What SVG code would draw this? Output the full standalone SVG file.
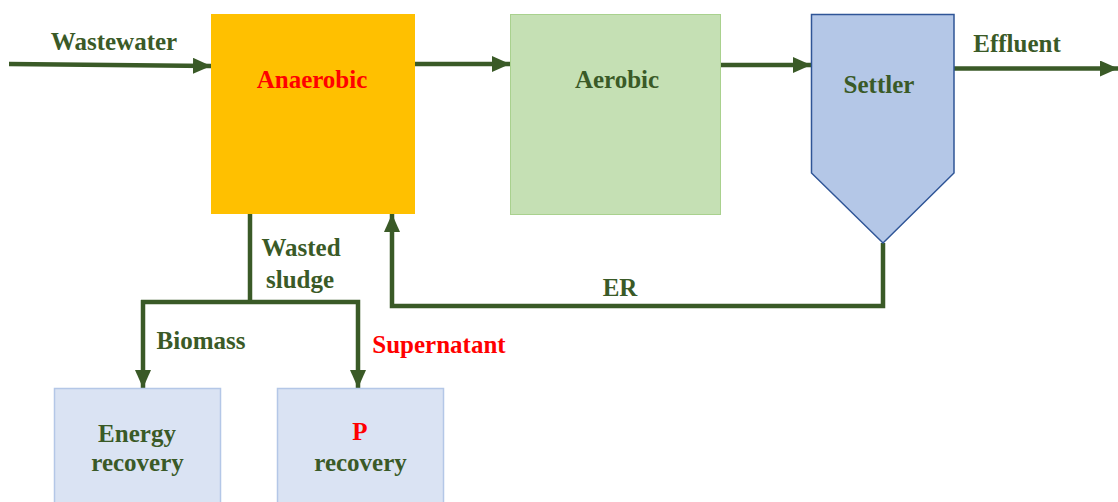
<svg xmlns="http://www.w3.org/2000/svg" width="1118" height="502" viewBox="0 0 1118 502">
  <defs>
    <style>
      .lbl { font-family: "Liberation Serif", "Times New Roman", serif; font-weight: bold; font-size: 25px; fill: #3A5A27; }
      .red { fill: #FF0000; }
      .flow { fill: none; stroke: #3A5A27; stroke-width: 4.5; stroke-linejoin: miter; }
    </style>
    <marker id="arrow" markerUnits="userSpaceOnUse" markerWidth="18" markerHeight="16" viewBox="0 0 18 16" refX="18" refY="8" orient="auto">
      <path d="M0,0 L18,8 L0,16 Z" fill="#3A5A27"/>
    </marker>
  </defs>

  <rect width="1118" height="502" fill="#FFFFFF"/>

  <!-- flow lines -->
  <g id="connectors">
    <path class="flow" d="M9,64 L211,66" marker-end="url(#arrow)"/>
    <path class="flow" d="M415,64 L510,64" marker-end="url(#arrow)"/>
    <path class="flow" d="M720,65 L811,65" marker-end="url(#arrow)"/>
    <path class="flow" d="M954,68.5 L1118,68.5" marker-end="url(#arrow)"/>
    <path class="flow" d="M883,243 L883,306 L392,306 L392,214" marker-end="url(#arrow)"/>
    <path class="flow" d="M250,214 L250,302"/>
    <path class="flow" d="M141,302 L358,302 L358,388" marker-end="url(#arrow)"/>
    <path class="flow" d="M143,300 L143,388" marker-end="url(#arrow)"/>
  </g>

  <g id="anaerobic">
    <rect x="211" y="14" width="204" height="200" fill="#FFC000"/>
    <text class="lbl red" x="312" y="88" text-anchor="middle">Anaerobic</text>
  </g>

  <g id="aerobic">
    <rect x="510.5" y="14.5" width="210" height="200" fill="#C5E0B4" stroke="#A9D18E" stroke-width="1"/>
    <text class="lbl" x="617" y="88" text-anchor="middle">Aerobic</text>
  </g>

  <g id="settler">
    <path d="M811.5,14.5 L954,14.5 L954,173 L883,243 L811.5,173 Z" fill="#B4C7E7" stroke="#2F5597" stroke-width="1.5"/>
    <text class="lbl" x="879" y="93" text-anchor="middle">Settler</text>
  </g>

  <g id="energy-recovery">
    <rect x="54.5" y="388.5" width="166" height="120" fill="#DAE3F3" stroke="#B4C7E7" stroke-width="1.5"/>
    <text class="lbl" x="137" y="442" text-anchor="middle">Energy</text>
    <text class="lbl" x="137.5" y="471" text-anchor="middle">recovery</text>
  </g>

  <g id="p-recovery">
    <rect x="277.5" y="388.5" width="166" height="120" fill="#DAE3F3" stroke="#B4C7E7" stroke-width="1.5"/>
    <text class="lbl red" x="360" y="440" text-anchor="middle">P</text>
    <text class="lbl" x="360.5" y="471" text-anchor="middle">recovery</text>
  </g>

  <!-- stream labels -->
  <g id="labels">
    <text class="lbl" x="114" y="50" text-anchor="middle">Wastewater</text>
    <text class="lbl" x="1017" y="52" text-anchor="middle">Effluent</text>
    <text class="lbl" x="301" y="256" text-anchor="middle">Wasted</text>
    <text class="lbl" x="300" y="288" text-anchor="middle">sludge</text>
    <text class="lbl" x="620" y="296" text-anchor="middle">ER</text>
    <text class="lbl" x="201" y="349" text-anchor="middle">Biomass</text>
    <text class="lbl red" x="439" y="353" text-anchor="middle">Supernatant</text>
  </g>
</svg>
